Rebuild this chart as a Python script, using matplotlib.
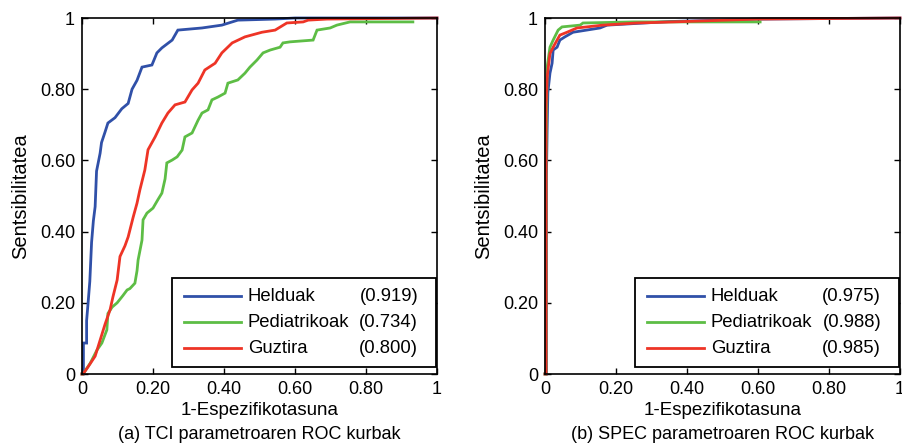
import matplotlib
matplotlib.use("Agg")
import matplotlib.pyplot as plt
from matplotlib.patches import Rectangle
from matplotlib.lines import Line2D

plt.rcParams['font.family'] = ['Liberation Sans', 'DejaVu Sans']

names = ['Helduak', 'Pediatrikoak', 'Guztira']
colors = ['#3050a8', '#5dbd45', '#ee3426']

# panel (a) TCI
auc_a = ['(0.919)', '(0.734)', '(0.800)']
fpr_a_held = [0, 0.004, 0.004, 0.013, 0.013, 0.018, 0.022, 0.027, 0.032, 0.037, 0.041, 0.051, 0.055,
              0.065, 0.073, 0.093, 0.112, 0.130, 0.141, 0.155, 0.169, 0.197, 0.211, 0.225, 0.254,
              0.270, 0.338, 0.394, 0.439, 0.544, 0.60, 1.0]
tpr_a_held = [0, 0, 0.087, 0.087, 0.15, 0.21, 0.26, 0.37, 0.43, 0.47, 0.57, 0.62, 0.65,
              0.68, 0.705, 0.72, 0.745, 0.76, 0.80, 0.825, 0.862, 0.868, 0.902, 0.916, 0.938,
              0.966, 0.972, 0.98, 0.994, 0.997, 1.0, 1.0]
fpr_a_ped = [0, 0.003, 0.023, 0.042, 0.056, 0.070, 0.073, 0.085, 0.099, 0.115, 0.127, 0.135, 0.149,
             0.155, 0.158, 0.169, 0.172, 0.183, 0.200, 0.214, 0.225, 0.234, 0.239, 0.254, 0.268,
             0.282, 0.290, 0.310, 0.327, 0.338, 0.355, 0.366, 0.383, 0.403, 0.411, 0.439, 0.459,
             0.473, 0.493, 0.510, 0.530, 0.558, 0.566, 0.586, 0.651, 0.662, 0.699, 0.718, 0.755, 0.932]
tpr_a_ped = [0, 0, 0.03, 0.067, 0.087, 0.124, 0.17, 0.188, 0.20, 0.22, 0.236, 0.24, 0.255,
             0.29, 0.32, 0.376, 0.433, 0.452, 0.466, 0.49, 0.508, 0.548, 0.593, 0.601, 0.61,
             0.629, 0.666, 0.677, 0.713, 0.733, 0.742, 0.77, 0.778, 0.789, 0.817, 0.826, 0.845,
             0.862, 0.882, 0.902, 0.91, 0.918, 0.93, 0.933, 0.938, 0.966, 0.972, 0.98, 0.989, 0.989]
fpr_a_guz = [0, 0.003, 0.017, 0.037, 0.051, 0.065, 0.079, 0.087, 0.099, 0.107, 0.121, 0.130, 0.144,
             0.155, 0.163, 0.177, 0.186, 0.206, 0.225, 0.242, 0.262, 0.290, 0.310, 0.327, 0.346,
             0.375, 0.394, 0.423, 0.459, 0.507, 0.544, 0.577, 0.623, 0.637, 0.690, 1.0]
tpr_a_guz = [0, 0, 0.02, 0.05, 0.095, 0.14, 0.18, 0.216, 0.264, 0.33, 0.36, 0.385, 0.44,
             0.48, 0.517, 0.573, 0.63, 0.666, 0.705, 0.733, 0.756, 0.764, 0.798, 0.817, 0.854,
             0.873, 0.902, 0.93, 0.947, 0.96, 0.966, 0.986, 0.989, 0.994, 0.997, 1.0]

# panel (b) SPEC
auc_b = ['(0.975)', '(0.988)', '(0.985)']
fpr_b_held = [0, 0.004, 0.004, 0.006, 0.008, 0.014, 0.020, 0.023, 0.034, 0.042, 0.056, 0.079,
              0.155, 0.175, 0.35, 0.6, 1.0]
tpr_b_held = [0, 0, 0.55, 0.685, 0.79, 0.845, 0.873, 0.91, 0.918, 0.938, 0.947, 0.96,
              0.972, 0.98, 0.99, 0.997, 1.0]
fpr_b_ped = [0, 0.003, 0.003, 0.006, 0.014, 0.023, 0.037, 0.048, 0.099, 0.107, 0.25, 0.606]
tpr_b_ped = [0, 0, 0.6, 0.862, 0.918, 0.938, 0.966, 0.975, 0.98, 0.986, 0.989, 0.989]
fpr_b_guz = [0, 0.003, 0.003, 0.006, 0.014, 0.023, 0.034, 0.042, 0.062, 0.090, 0.163, 0.259,
             0.361, 0.6, 1.0]
tpr_b_guz = [0, 0, 0.75, 0.834, 0.90, 0.918, 0.938, 0.952, 0.96, 0.972, 0.98, 0.986,
             0.989, 0.997, 1.0]

ticks = [0, 0.2, 0.4, 0.6, 0.8, 1.0]
tick_labels = ['0', '0.20', '0.40', '0.60', '0.80', '1']

fig = plt.figure(figsize=(9.03, 4.48), dpi=100)
W, H = 903, 448


def panel(left_px, curves, aucs, caption):
    ax = fig.add_axes([left_px / W, (H - 374) / H, 355 / W, 356 / H])
    for (x, y), c in zip(curves, colors):
        ax.plot(x, y, color=c, lw=2.0, clip_on=False, solid_joinstyle='miter')
    ax.set_xlim(0, 1)
    ax.set_ylim(0, 1)
    ax.set_xticks(ticks)
    ax.set_xticklabels(tick_labels)
    ax.set_yticks(ticks)
    ax.set_yticklabels(tick_labels)
    ax.tick_params(direction='in', length=4, width=1, top=True, right=True,
                   labelsize=13, pad=5)
    for s in ax.spines.values():
        s.set_linewidth(1.2)
    ax.set_xlabel('1-Espezifikotasuna', fontsize=13.5, labelpad=3)
    ax.set_ylabel('Sentsibilitatea', fontsize=14.5, labelpad=7)

    # legend box drawn by hand so values sit in their own column
    ax.add_patch(Rectangle((0.253, 0.02), 0.743, 0.25, transform=ax.transAxes,
                           facecolor='white', edgecolor='black', lw=1.3, zorder=5))
    ys = [0.219, 0.146, 0.073]
    for yy, c, n, a in zip(ys, colors, names, aucs):
        ax.add_line(Line2D([0.286, 0.447], [yy, yy], color=c, lw=2.0,
                           transform=ax.transAxes, zorder=6))
        ax.text(0.467, yy, n, transform=ax.transAxes, fontsize=13.3,
                va='center', ha='left', zorder=7)
        ax.text(0.947, yy, a, transform=ax.transAxes, fontsize=13.3,
                va='center', ha='right', zorder=7)
    fig.text((left_px + 177.5) / W, 1 - 434 / H, caption, fontsize=13,
             ha='center', va='center')
    return ax


panel(82, [(fpr_a_held, tpr_a_held), (fpr_a_ped, tpr_a_ped), (fpr_a_guz, tpr_a_guz)],
      auc_a, '(a) TCI parametroaren ROC kurbak')
panel(545, [(fpr_b_held, tpr_b_held), (fpr_b_ped, tpr_b_ped), (fpr_b_guz, tpr_b_guz)],
      auc_b, '(b) SPEC parametroaren ROC kurbak')

fig.savefig('out.png', dpi=100)
